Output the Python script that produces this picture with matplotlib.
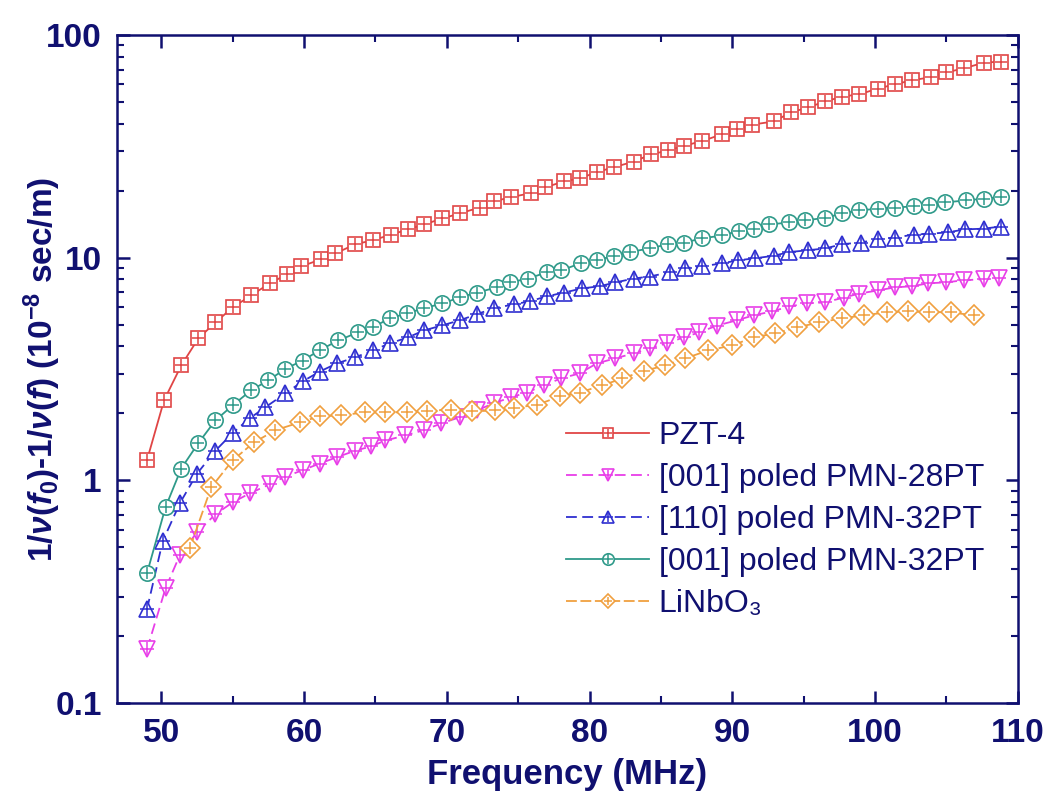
import matplotlib
matplotlib.use("Agg")
import matplotlib.pyplot as plt
from matplotlib.ticker import LogLocator, NullFormatter, MultipleLocator

plt.rcParams['font.family'] = ['Liberation Sans', 'DejaVu Sans']
plt.rcParams['mathtext.fontset'] = 'custom'
plt.rcParams['mathtext.rm'] = 'Liberation Sans:bold'
plt.rcParams['mathtext.it'] = 'Liberation Sans:italic:bold'
plt.rcParams['mathtext.bf'] = 'Liberation Sans:bold'

# data
pzt_x = [49.0, 50.2, 51.4, 52.6, 53.8, 55.0, 56.3, 57.6, 58.8, 59.8, 61.2, 62.2, 63.6, 64.8, 66.1,
         67.3, 68.4, 69.7, 70.9, 72.3, 73.3, 74.5, 75.9, 76.9, 78.2, 79.3, 80.5, 81.7, 83.1, 84.3,
         85.5, 86.6, 87.9, 89.3, 90.3, 91.4, 92.9, 94.1, 95.3, 96.5, 97.7, 98.9, 100.2, 101.4,
         102.6, 103.9, 105.0, 106.2, 107.6, 108.8]
pzt_y = [1.23, 2.29, 3.28, 4.34, 5.12, 5.98, 6.77, 7.67, 8.41, 9.14, 9.83, 10.45, 11.5, 11.96, 12.7,
         13.4, 14.1, 15.0, 15.8, 16.8, 17.9, 18.7, 19.5, 20.7, 22.0, 22.7, 24.2, 25.5, 27.0, 29.1,
         30.3, 31.8, 33.4, 35.9, 37.7, 39.6, 40.9, 44.9, 47.3, 50.3, 52.9, 54.2, 57.5, 60.1,
         62.7, 64.6, 68.0, 70.8, 75.1, 76.0]

pmn28_x = [49.0, 50.3, 51.3, 52.5, 53.8, 55.0, 56.2, 57.6, 58.7, 59.9, 61.1, 62.3, 63.6, 64.7, 65.7,
           67.1, 68.4, 69.6, 70.9, 72.1, 73.3, 74.5, 75.6, 76.8, 78.0, 79.3, 80.5, 81.8, 83.1, 84.2,
           85.4, 86.6, 87.7, 88.9, 90.3, 91.5, 92.8, 94.0, 95.2, 96.5, 97.8, 98.9, 100.2, 101.4,
           102.6, 103.7, 105.0, 106.2, 107.6, 108.7]
pmn28_y = [0.174, 0.327, 0.461, 0.584, 0.704, 0.796, 0.874, 0.96, 1.04, 1.11, 1.19, 1.27, 1.36, 1.42,
           1.51, 1.59, 1.68, 1.80, 1.92, 2.06, 2.22, 2.36, 2.48, 2.67, 2.87, 3.02, 3.35, 3.53, 3.72,
           3.92, 4.12, 4.39, 4.62, 4.95, 5.23, 5.51, 5.74, 6.04, 6.23, 6.30, 6.62, 6.90, 7.13, 7.36,
           7.44, 7.67, 7.75, 7.92, 8.0, 8.1]

pmn32_110_x = [49.0, 50.1, 51.3, 52.5, 53.8, 55.0, 56.2, 57.3, 58.7, 59.9, 61.1, 62.3, 63.6, 64.8,
               66.0, 67.3, 68.4, 69.7, 70.9, 72.1, 73.3, 74.7, 75.8, 77.0, 78.2, 79.5, 80.7, 81.8,
               83.1, 84.2, 85.6, 86.7, 87.9, 89.3, 90.4, 91.6, 92.9, 94.0, 95.3, 96.5, 97.7, 99.0,
               100.2, 101.4, 102.7, 103.8, 105.1, 106.3, 107.6, 108.8]
pmn32_110_y = [0.263, 0.532, 0.788, 1.07, 1.36, 1.63, 1.90, 2.13, 2.46, 2.78, 3.08, 3.35, 3.57, 3.83,
               4.12, 4.39, 4.71, 4.97, 5.23, 5.57, 5.93, 6.17, 6.37, 6.70, 6.97, 7.28, 7.44, 7.74,
               8.06, 8.23, 8.59, 8.97, 9.14, 9.44, 9.73, 9.94, 10.2, 10.6, 10.8, 11.0, 11.5, 11.7,
               12.1, 12.3, 12.7, 12.8, 13.0, 13.4, 13.5, 13.8]

pmn32_001_x = [49.0, 50.3, 51.4, 52.6, 53.8, 55.0, 56.3, 57.5, 58.7, 59.9, 61.1, 62.4, 63.8, 64.8,
               66.0, 67.2, 68.4, 69.7, 70.9, 72.1, 73.5, 74.4, 75.7, 77.0, 78.0, 79.4, 80.5, 81.7,
               82.8, 84.2, 85.5, 86.6, 87.9, 89.3, 90.5, 91.5, 92.6, 94.0, 95.1, 96.5, 97.7, 98.9,
               100.2, 101.4, 102.7, 103.8, 104.9, 106.4, 107.6, 108.8]
pmn32_001_y = [0.382, 0.757, 1.13, 1.47, 1.86, 2.17, 2.54, 2.81, 3.17, 3.45, 3.84, 4.25, 4.62, 4.86,
               5.34, 5.62, 5.93, 6.23, 6.63, 6.97, 7.35, 7.74, 8.06, 8.59, 8.77, 9.44, 9.73, 10.2,
               10.6, 11.0, 11.5, 11.7, 12.2, 12.6, 13.2, 13.5, 14.1, 14.4, 14.7, 15.1, 15.8, 16.3,
               16.6, 16.8, 17.0, 17.2, 17.7, 18.1, 18.4, 18.7]

linbo3_x = [52.0, 53.5, 55.0, 56.5, 58.0, 59.7, 61.1, 62.6, 64.3, 65.7, 67.2, 68.6, 70.3, 71.8,
            73.4, 74.7, 76.3, 77.9, 79.3, 80.9, 82.3, 83.8, 85.3, 86.7, 88.3, 90.0, 91.5, 93.0,
            94.5, 96.1, 97.7, 99.2, 100.8, 102.3, 103.8, 105.3, 106.9]
linbo3_y = [0.495, 0.93, 1.23, 1.48, 1.68, 1.82, 1.94, 1.96, 2.02, 2.02, 2.02, 2.05, 2.08, 2.04,
            2.06, 2.12, 2.18, 2.38, 2.48, 2.67, 2.87, 3.10, 3.28, 3.53, 3.83, 4.04, 4.39, 4.57,
            4.86, 5.12, 5.34, 5.51, 5.68, 5.74, 5.70, 5.68, 5.51]

navy = '#101070'

fig = plt.figure(figsize=(10.5, 8.11), dpi=100)
ax = fig.add_axes([0.1114, 0.1332, 0.858, 0.8236])

series = [
    (pzt_x, pzt_y, '#e04545', 's', 10, '-', 'PZT-4'),
    (pmn28_x, pmn28_y, '#e83ee8', 'v', 12, (0, (6, 3)), '[001] poled PMN-28PT'),
    (pmn32_110_x, pmn32_110_y, '#2f2fd0', '^', 12, (0, (6, 3)), '[110] poled PMN-32PT'),
    (pmn32_001_x, pmn32_001_y, '#2f9a8a', 'o', 11, '-', '[001] poled PMN-32PT'),
    (linbo3_x, linbo3_y, '#f0a040', 'D', 10, (0, (6, 2)), 'LiNbO\u2083'),
]

handles = []
for x, y, c, m, ms, ls, lab in series:
    ln, = ax.plot(x, y, color=c, ls=ls, lw=1.3, marker=m, ms=ms, mfc='white',
                  mec=c, mew=1.2)
    pl, = ax.plot(x, y, ls='none', marker='+', ms=ms * 0.85, color=c, mew=1.1)
    handles.append((ln, pl))

ax.set_yscale('log')
ax.set_xlim(46.9, 110)
ax.set_ylim(0.1, 100)

ax.set_xticks([50, 60, 70, 80, 90, 100, 110])
ax.xaxis.set_minor_locator(MultipleLocator(5))
ax.set_yticks([0.1, 1, 10, 100])
ax.set_yticklabels(['0.1', '1', '10', '100'])
ax.yaxis.set_minor_locator(LogLocator(base=10, subs=[2, 3, 4, 5, 6, 7, 8, 9]))
ax.yaxis.set_minor_formatter(NullFormatter())

for s in ax.spines.values():
    s.set_color(navy)
    s.set_linewidth(1.8)
ax.tick_params(which='both', direction='in', top=True, right=True, colors=navy)
ax.tick_params(which='major', length=9, width=1.8, labelsize=24, pad=11)
ax.tick_params(which='minor', length=5, width=1.5)
for t in ax.get_xticklabels() + ax.get_yticklabels():
    t.set_fontweight('bold')

ax.set_xlabel('Frequency (MHz)', fontsize=25, fontweight='bold', color=navy, labelpad=6)
ax.set_ylabel(r'1/$\nu$($f_0$)-1/$\nu$($f$) (10$^{-8}$ sec/m)', fontsize=24,
              fontweight='bold', color=navy)
ax.yaxis.set_label_coords(-0.06, 0.5)

leg = ax.legend(handles, [s[6] for s in series], loc='upper left',
                bbox_to_anchor=(0.524, 0.5), bbox_transform=fig.transFigure,
                frameon=False, fontsize=23, labelspacing=0.37, handlelength=2.6,
                handletextpad=0.3, borderpad=0, markerscale=0.75)
for t in leg.get_texts():
    t.set_color(navy)

fig.savefig('out.png', dpi=100)
